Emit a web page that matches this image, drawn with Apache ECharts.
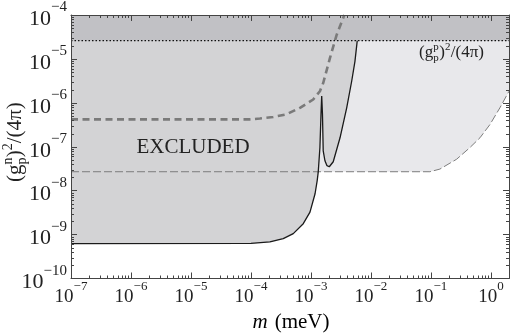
<!DOCTYPE html>
<html>
<head>
<meta charset="utf-8">
<script src="https://cdn.jsdelivr.net/npm/echarts@6/dist/echarts.min.js"></script>
<style>
  html, body { margin: 0; padding: 0; background: #fff; }
  #chart { width: 512px; height: 333px; }
</style>
</head>
<body>
<div id="chart"></div>
<script>
const xMin = 1e-7
const xMax = 2
const yMin = 1e-10
const yMax = 1e-4
const ppLimit = 2.6e-5 // (g_p^p)^2/(4pi) dotted line

// solid black curve, lower edge of the EXCLUDED region
const solidX = [1e-7, 1e-4, 2.07e-4, 3.45e-4, 5.07e-4, 7.44e-4, 9.63e-4, 1.17e-3, 1.27e-3, 1.32e-3, 1.41e-3, 1.47e-3, 1.51e-3,
  1.555e-3, 1.6e-3, 1.71e-3, 1.85e-3, 2.02e-3, 2.35e-3, 3.05e-3, 3.94e-3, 4.77e-3, 5.41e-3, 5.91e-3]
const solidY = [6.2e-10, 6.3e-10, 6.8e-10, 8.1e-10, 1.05e-9, 1.77e-9, 3.25e-9, 8.5e-9, 1.7e-8, 2.6e-8, 9.6e-8, 5.5e-7, 1.42e-6,
  5.5e-7, 8.1e-8, 4.8e-8, 3.7e-8, 3.5e-8, 4.55e-8, 1.6e-7, 7.7e-7, 3.1e-6, 8.8e-6, 2.6e-5]

// thick grey dashed curve
const thickX = [1e-7, 9.6e-5, 1.41e-4, 2.35e-4, 3.94e-4, 6.56e-4, 1.09e-3, 1.41e-3, 1.6e-3, 2.07e-3, 2.68e-3, 3.6e-3]
const thickY = [4.2e-7, 4.2e-7, 4.4e-7, 4.75e-7, 5.5e-7, 7.7e-7, 1.19e-6, 1.84e-6, 2.83e-6, 1.04e-5, 3.53e-5, 1e-4]

// thin long-dashed curve, lower edge of the light region
const longX = [1e-7, 0.0962, 0.141, 0.268, 0.447, 0.656, 0.962, 1.41, 2]
const longY = [2.7e-8, 2.7e-8, 3.1e-8, 5.2e-8, 9.6e-8, 1.6e-7, 3.2e-7, 7.7e-7, 1.84e-6]

const xDecades = [-7, -6, -5, -4, -3, -2, -1, 0]
const yDecades = [-10, -9, -8, -7, -6, -5, -4]

const serif = "'Liberation Serif', 'DejaVu Serif', serif"
const ink = '#222'

const chart = echarts.init(document.getElementById('chart'))

function pairs(xs, ys) {
  return xs.map((x, i) => [x, ys[i]])
}

function polygon(points, color, z) {
  return {
    type: 'custom',
    z: z,
    silent: true,
    data: [[1e-3, 1e-7]],
    renderItem: (params, api) => ({
      type: 'polygon',
      shape: { points: points.map(p => api.coord(p)) },
      style: { fill: color }
    })
  }
}

function curve(xs, ys, color, width, type, z) {
  return {
    type: 'line',
    z: z,
    silent: true,
    data: pairs(xs, ys),
    showSymbol: false,
    lineStyle: { color: color, width: width, type: type }
  }
}

function powLabel(v) {
  const l = Math.log10(v)
  const e = Math.round(l)
  if (Math.abs(l - e) > 1e-6) return ''
  return '{b|10}{s|' + (e < 0 ? '\u2212' : '') + Math.abs(e) + '}'
}

const xRich = {
  b: { fontSize: 19, fontFamily: serif, color: ink, lineHeight: 26, verticalAlign: 'bottom' },
  s: { fontSize: 13, fontFamily: serif, color: ink, lineHeight: 14, verticalAlign: 'top' }
}
const yRich = {
  b: { fontSize: 22, fontFamily: serif, color: ink, lineHeight: 30, verticalAlign: 'bottom' },
  s: { fontSize: 15, fontFamily: serif, color: ink, lineHeight: 16, verticalAlign: 'top' }
}

const frame = { show: true, lineStyle: { color: '#444', width: 1 } }
const majorTick = { show: true, inside: true, length: 6, lineStyle: { color: '#444' } }

const lightPoly = pairs(longX, longY).concat([[xMax, yMax], [xMin, yMax]])
const excludedPoly = pairs(solidX, solidY).concat([[solidX[solidX.length - 1], yMax], [xMin, yMax]])
const bandPoly = [[xMin, ppLimit], [xMax, ppLimit], [xMax, yMax], [xMin, yMax]]

// minor log ticks (2..9 x 10^n) on all four sides
const minorTicks = {
  type: 'custom',
  z: 20,
  silent: true,
  data: [[1e-3, 1e-7]],
  renderItem: (params, api) => {
    const cs = params.coordSys
    const kids = []
    const st = { stroke: '#444', lineWidth: 1 }
    xDecades.forEach(d => {
      for (let k = 2; k <= 9; k++) {
        const v = k * Math.pow(10, d)
        if (v >= xMax) continue
        const x = Math.round(api.coord([v, yMin])[0]) + 0.5
        kids.push({ type: 'line', shape: { x1: x, y1: cs.y + cs.height, x2: x, y2: cs.y + cs.height - 3 }, style: st })
        kids.push({ type: 'line', shape: { x1: x, y1: cs.y, x2: x, y2: cs.y + 3 }, style: st })
      }
    })
    yDecades.forEach(d => {
      for (let k = 2; k <= 9; k++) {
        const v = k * Math.pow(10, d)
        if (v >= yMax) continue
        const y = Math.round(api.coord([xMin, v])[1]) + 0.5
        kids.push({ type: 'line', shape: { x1: cs.x, y1: y, x2: cs.x + 3, y2: y }, style: st })
        kids.push({ type: 'line', shape: { x1: cs.x + cs.width, y1: y, x2: cs.x + cs.width - 3, y2: y }, style: st })
      }
    })
    return { type: 'group', children: kids }
  }
}

function txt(x, y, text, size) {
  return { type: 'text', z: 30, style: { x: x, y: y, text: text, font: size + 'px ' + serif, fill: ink, verticalAlign: 'middle' } }
}

chart.setOption({
  animation: false,
  backgroundColor: '#fff',
  grid: { left: 71, right: 3, top: 13, bottom: 54.5 },
  xAxis: [{
    type: 'log', min: xMin, max: xMax, z: 10,
    axisLine: frame, axisTick: majorTick, splitLine: { show: false },
    axisLabel: { margin: 2, formatter: powLabel, rich: xRich, showMaxLabel: false }
  }, {
    type: 'log', min: xMin, max: xMax, position: 'top', z: 10,
    axisLine: frame, axisTick: majorTick, splitLine: { show: false }, axisLabel: { show: false }
  }],
  yAxis: [{
    type: 'log', min: yMin, max: yMax, z: 10,
    axisLine: frame, axisTick: majorTick, splitLine: { show: false },
    axisLabel: { margin: 4, formatter: powLabel, rich: yRich }
  }, {
    type: 'log', min: yMin, max: yMax, position: 'right', z: 10,
    axisLine: frame, axisTick: majorTick, splitLine: { show: false }, axisLabel: { show: false }
  }],
  series: [
    polygon(lightPoly, '#e8e8eb', 1),
    polygon(excludedPoly, '#d3d3d5', 2),
    polygon(bandPoly, '#c1c1c5', 3),
    curve(longX, longY, '#7d7d7d', 1, [8, 3], 4),
    curve([xMin, xMax], [ppLimit, ppLimit], '#111', 1.2, [1.5, 2], 5),
    curve(thickX, thickY, '#7a7a7a', 2.6, [7, 4.5], 6),
    curve(solidX, solidY, '#1a1a1a', 1.3, 'solid', 7),
    minorTicks
  ],
  graphic: [
    {
      type: 'text', z: 30,
      style: { text: 'EXCLUDED', x: 193, y: 147.5, align: 'center', verticalAlign: 'middle', font: '21px ' + serif, fill: ink }
    },
    {
      type: 'text', z: 30,
      style: {
        x: 291, y: 322, align: 'center', verticalAlign: 'middle', text: '{i|m}{r|(meV)}',
        rich: {
          i: { fontSize: 21, fontStyle: 'italic', fontFamily: serif, color: ink, padding: [0, 7, 0, 0] },
          r: { fontSize: 21, fontFamily: serif, color: ink }
        }
      }
    },
    {
      // y axis title (g_p^n)^2/(4pi)
      type: 'group', x: 15, y: 140, rotation: Math.PI / 2,
      children: [
        txt(-42, 0, '(g', 21),
        txt(-24.5, -7, 'n', 14),
        txt(-24.5, 7, 'p', 14),
        txt(-17.3, 0, ')', 21),
        txt(-10.3, -7, '2', 14),
        txt(-3.3, 0, '/(4\u03c0)', 21)
      ]
    },
    {
      // (g_p^p)^2/(4pi) label
      type: 'group', x: 453, y: 53,
      children: [
        txt(-34, 0, '(g', 17),
        txt(-19.8, -6, 'p', 11),
        txt(-19.8, 5, 'p', 11),
        txt(-13.8, 0, ')', 17),
        txt(-8, -6, '2', 11),
        txt(-2.2, 0, '/(4\u03c0)', 17)
      ]
    }
  ]
})
</script>
</body>
</html>
